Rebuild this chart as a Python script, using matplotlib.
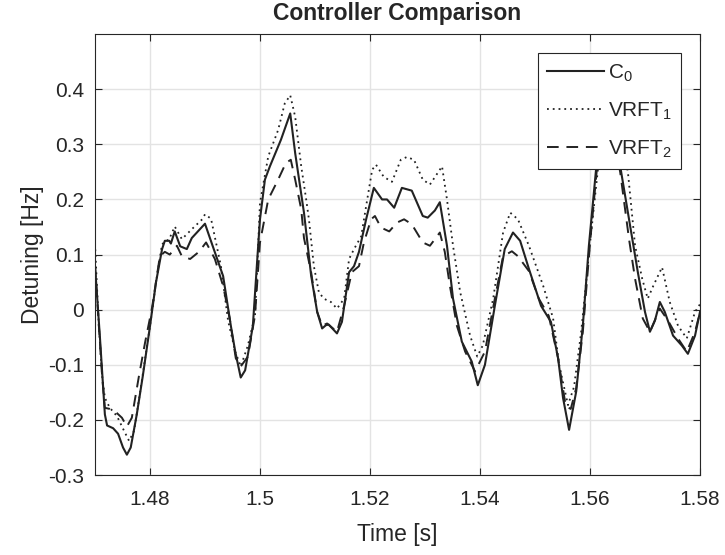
import matplotlib

matplotlib.use("Agg")

import matplotlib.pyplot as plt

# C0 controller (solid)
t_c0 = [1.4700, 1.4709, 1.4718, 1.4722, 1.4733, 1.4742, 1.4751, 1.4758, 1.4765, 1.4776,
        1.4787, 1.4800, 1.4811, 1.4822, 1.4827, 1.4835, 1.4838, 1.4845, 1.4855, 1.4867,
        1.4876, 1.4900, 1.4909, 1.4933, 1.4947, 1.4955, 1.4965, 1.4973, 1.4987, 1.4996,
        1.5000, 1.5009, 1.5018, 1.5038, 1.5055, 1.5064, 1.5080, 1.5093, 1.5104, 1.5113,
        1.5120, 1.5125, 1.5140, 1.5149, 1.5162, 1.5171, 1.5180, 1.5193, 1.5207, 1.5222,
        1.5231, 1.5244, 1.5258, 1.5276, 1.5296, 1.5305, 1.5318, 1.5327, 1.5340, 1.5351,
        1.5367, 1.5385, 1.5396, 1.5409, 1.5427, 1.5445, 1.5460, 1.5473, 1.5489, 1.5511,
        1.5529, 1.5542, 1.5551, 1.5562, 1.5575, 1.5587, 1.5598, 1.5611, 1.5633, 1.5651,
        1.5673, 1.5687, 1.5700, 1.5709, 1.5718, 1.5727, 1.5736, 1.5751, 1.5767, 1.5778,
        1.5791, 1.5800]
v_c0 = [0.080, -0.050, -0.190, -0.210, -0.215, -0.225, -0.250, -0.263, -0.250, -0.190,
        -0.120, -0.030, 0.050, 0.110, 0.125, 0.125, 0.120, 0.142, 0.115, 0.110,
        0.130, 0.156, 0.130, 0.061, -0.029, -0.076, -0.123, -0.110, -0.030, 0.105,
        0.164, 0.236, 0.260, 0.308, 0.356, 0.284, 0.176, 0.062, -0.004, -0.034,
        -0.028, -0.027, -0.043, -0.022, 0.068, 0.079, 0.105, 0.164, 0.221, 0.200,
        0.200, 0.185, 0.221, 0.216, 0.170, 0.167, 0.180, 0.195, 0.116, 0.020,
        -0.058, -0.094, -0.137, -0.100, 0.007, 0.110, 0.140, 0.125, 0.074, 0.007,
        -0.022, -0.088, -0.160, -0.218, -0.148, -0.029, 0.116, 0.254, 0.410, 0.284,
        0.152, 0.068, -0.004, -0.040, -0.020, 0.014, -0.004, -0.047, -0.065, -0.080,
        -0.047, -0.004]

# VRFT1 controller (dotted)
t_v1 = [1.4700, 1.4707, 1.4713, 1.4718, 1.4727, 1.4740, 1.4753, 1.4762, 1.4771, 1.4782,
        1.4800, 1.4811, 1.4822, 1.4835, 1.4845, 1.4858, 1.4876, 1.4895, 1.4900, 1.4911,
        1.4929, 1.4942, 1.4955, 1.4965, 1.4978, 1.4991, 1.4996, 1.5000, 1.5015, 1.5033,
        1.5045, 1.5055, 1.5064, 1.5075, 1.5084, 1.5089, 1.5098, 1.5107, 1.5116, 1.5129,
        1.5140, 1.5153, 1.5162, 1.5171, 1.5184, 1.5195, 1.5204, 1.5211, 1.5225, 1.5240,
        1.5256, 1.5267, 1.5280, 1.5296, 1.5309, 1.5331, 1.5340, 1.5351, 1.5364, 1.5382,
        1.5395, 1.5405, 1.5424, 1.5442, 1.5455, 1.5469, 1.5489, 1.5515, 1.5533, 1.5544,
        1.5560, 1.5571, 1.5584, 1.5600, 1.5615, 1.5635, 1.5669, 1.5682, 1.5695, 1.5705,
        1.5715, 1.5731, 1.5745, 1.5760, 1.5776, 1.5791, 1.5800]
v_v1 = [0.120, -0.030, -0.120, -0.160, -0.178, -0.193, -0.220, -0.238, -0.220, -0.150,
        -0.030, 0.050, 0.119, 0.128, 0.151, 0.128, 0.146, 0.164, 0.173, 0.165,
        0.079, -0.020, -0.076, -0.103, -0.065, -0.010, 0.100, 0.194, 0.278, 0.326,
        0.374, 0.389, 0.350, 0.260, 0.200, 0.164, 0.079, 0.032, 0.020, 0.014,
        0.002, 0.020, 0.092, 0.110, 0.133, 0.200, 0.254, 0.263, 0.241, 0.232,
        0.272, 0.277, 0.272, 0.236, 0.227, 0.260, 0.200, 0.116, 0.032, -0.047,
        -0.085, -0.065, 0.020, 0.140, 0.176, 0.164, 0.116, 0.043, -0.016, -0.100,
        -0.173, -0.140, -0.040, 0.120, 0.260, 0.440, 0.249, 0.116, 0.056, 0.020,
        0.043, 0.077, 0.014, -0.029, -0.052, -0.004, 0.010]

# VRFT2 controller (dashed)
t_v2 = [1.4700, 1.4713, 1.4718, 1.4727, 1.4736, 1.4749, 1.4758, 1.4767, 1.4780, 1.4791,
        1.4804, 1.4818, 1.4827, 1.4836, 1.4849, 1.4858, 1.4873, 1.4889, 1.4902, 1.4918,
        1.4933, 1.4945, 1.4956, 1.4965, 1.4978, 1.4991, 1.5000, 1.5015, 1.5033, 1.5047,
        1.5056, 1.5064, 1.5075, 1.5080, 1.5093, 1.5104, 1.5113, 1.5122, 1.5140, 1.5153,
        1.5167, 1.5180, 1.5189, 1.5202, 1.5209, 1.5220, 1.5235, 1.5249, 1.5262, 1.5276,
        1.5296, 1.5309, 1.5327, 1.5336, 1.5345, 1.5358, 1.5373, 1.5391, 1.5409, 1.5427,
        1.5442, 1.5458, 1.5469, 1.5489, 1.5507, 1.5525, 1.5542, 1.5556, 1.5565, 1.5575,
        1.5587, 1.5600, 1.5613, 1.5629, 1.5655, 1.5671, 1.5682, 1.5696, 1.5709, 1.5727,
        1.5742, 1.5760, 1.5776, 1.5791, 1.5800]
v_v2 = [0.080, -0.120, -0.178, -0.180, -0.184, -0.196, -0.212, -0.196, -0.120, -0.060,
        0.005, 0.097, 0.105, 0.100, 0.116, 0.097, 0.092, 0.105, 0.122, 0.092,
        0.043, -0.016, -0.088, -0.103, -0.085, -0.010, 0.122, 0.200, 0.236, 0.266,
        0.272, 0.236, 0.182, 0.130, 0.068, -0.004, -0.029, -0.025, -0.040, 0.007,
        0.068, 0.079, 0.122, 0.164, 0.170, 0.149, 0.142, 0.158, 0.164, 0.155,
        0.122, 0.116, 0.140, 0.105, 0.045, -0.029, -0.076, -0.112, -0.076, 0.020,
        0.097, 0.106, 0.097, 0.070, 0.020, -0.011, -0.088, -0.175, -0.180, -0.142,
        -0.040, 0.120, 0.260, 0.390, 0.249, 0.128, 0.056, -0.016, -0.040, 0.002,
        -0.020, -0.052, -0.076, -0.040, -0.005]

x_ticks = [1.48, 1.5, 1.52, 1.54, 1.56, 1.58]
x_tick_labels = ["1.48", "1.5", "1.52", "1.54", "1.56", "1.58"]
y_ticks = [-0.3, -0.2, -0.1, 0.0, 0.1, 0.2, 0.3, 0.4]
y_tick_labels = ["-0.3", "-0.2", "-0.1", "0", "0.1", "0.2", "0.3", "0.4"]

plt.rcParams["font.family"] = ["Liberation Sans", "DejaVu Sans"]
plt.rcParams["mathtext.fontset"] = "custom"
plt.rcParams["mathtext.rm"] = "Liberation Sans"
plt.rcParams["mathtext.it"] = "Liberation Sans"

axis_col = "#262626"
line_col = "#222222"

fig = plt.figure(figsize=(7.25, 5.55), dpi=100)
ax = fig.add_axes([0.131, 0.144, 0.8345, 0.7946])

ax.plot(t_c0, v_c0, color=line_col, lw=1.5, ls="-", label=r"C$_\mathrm{0}$")
ax.plot(t_v1, v_v1, color=line_col, lw=1.3, ls=(0, (1, 2.2)), label=r"VRFT$_\mathrm{1}$")
ax.plot(t_v2, v_v2, color=line_col, lw=1.4, ls=(0, (6, 4)), label=r"VRFT$_\mathrm{2}$")

ax.set_xlim(1.47, 1.58)
ax.set_ylim(-0.3, 0.5)
ax.set_xticks(x_ticks)
ax.set_xticklabels(x_tick_labels)
ax.set_yticks(y_ticks)
ax.set_yticklabels(y_tick_labels)
ax.grid(True, color="#e3e3e3", lw=1.0)
ax.set_axisbelow(True)
ax.tick_params(direction="in", length=5, width=0.8, colors=axis_col, labelsize=15,
               top=True, right=True)
ax.tick_params(axis="x", pad=11)
ax.tick_params(axis="y", pad=8)
for sp in ax.spines.values():
    sp.set_color(axis_col)
    sp.set_linewidth(0.8)

ax.set_xlabel("Time [s]", fontsize=16.5, color=axis_col, labelpad=10)
ax.set_ylabel("Detuning [Hz]", fontsize=16.5, color=axis_col, labelpad=3)
ax.set_title("Controller Comparison", fontsize=16.5, fontweight="bold", color=axis_col, pad=10)

leg = ax.legend(loc="upper right", bbox_to_anchor=(0.969, 0.957), fontsize=15,
                frameon=True, fancybox=False, framealpha=1.0, edgecolor=axis_col,
                handlelength=2.7, handletextpad=0.2, borderpad=0.45, labelspacing=0.8,
                borderaxespad=0.0)
leg.get_frame().set_linewidth(0.8)
for txt in leg.get_texts():
    txt.set_color(axis_col)

fig.savefig("out.png", dpi=100)
